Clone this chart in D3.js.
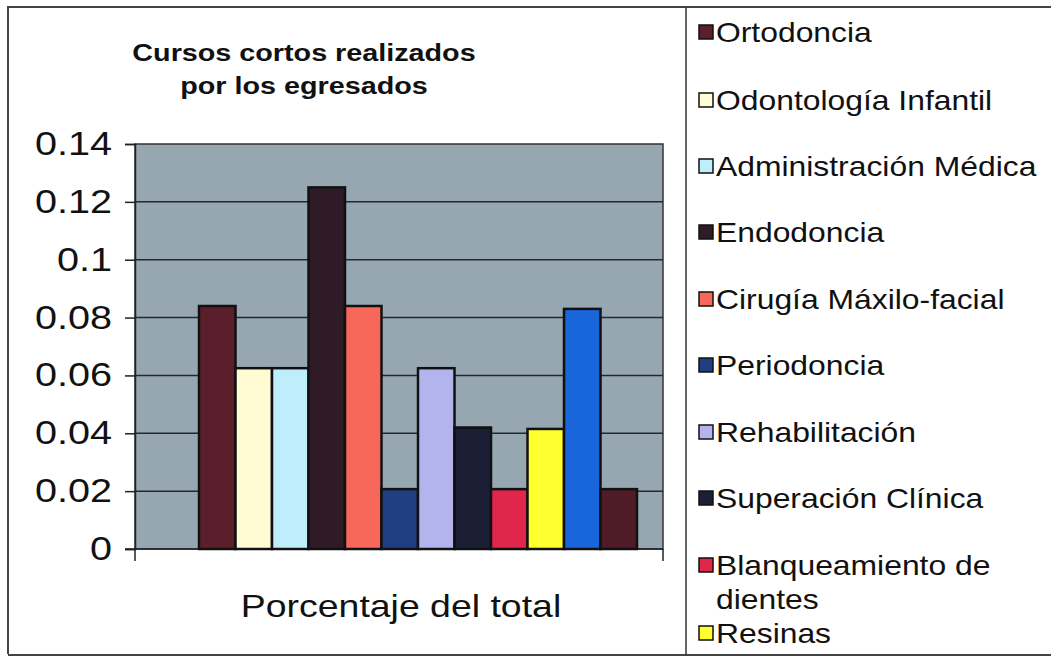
<!DOCTYPE html>
<html><head><meta charset="utf-8">
<script src="https://cdn.jsdelivr.net/npm/d3@7"></script>
<style>body{margin:0;background:#fff}svg{display:block;font-family:Arial,"Liberation Sans",sans-serif}</style>
</head><body>
<svg id="c" width="1051" height="657"></svg>
<script>
const categories = ["Ortodoncia","Odontología Infantil","Administración Médica","Endodoncia","Cirugía Máxilo-facial","Periodoncia","Rehabilitación","Superación Clínica","Blanqueamiento de dientes","Resinas","Serie 11","Serie 12"];
const values = [0.084,0.0625,0.0625,0.125,0.084,0.0207,0.0625,0.042,0.0207,0.0415,0.083,0.0207];
const colors = ["#5b1f2c","#fffbd2","#bdeefa","#2f1a28","#f8685a","#1f3f82","#b3b3ee","#1b1f36","#e0264a","#ffff30","#1866d9","#4e1b27"];
const legendShown = 10;
const yTicks = [0,0.02,0.04,0.06,0.08,0.1,0.12,0.14];
const xLabel = "Porcentaje del total";
const titleLines = ["Cursos cortos realizados","por los egresados"];

const svg = d3.select("#c");
// helper: horizontally stretched text (the reference is wider than natural)
function stext(parent, x, y, str, size, sx, anchor, weight){
  return parent.append("text")
    .attr("transform",`translate(${x},${y}) scale(${sx},1)`)
    .attr("text-anchor",anchor||"start")
    .attr("font-size",size).attr("font-weight",weight||"normal")
    .attr("fill","#111").text(str);
}

// outer frame
svg.append("path").attr("d","M8,654 L8,7 L1051,7").attr("fill","none").attr("stroke","#444").attr("stroke-width",2);
svg.append("line").attr("x1",8).attr("x2",1051).attr("y1",655).attr("y2",655).attr("stroke","#444").attr("stroke-width",2);
svg.append("line").attr("x1",686).attr("x2",686).attr("y1",7).attr("y2",655).attr("stroke","#333").attr("stroke-width",1.5);

const plot = {x0:135, x1:663, y0:144, y1:549};
const y = d3.scaleLinear().domain([0,0.14]).range([plot.y1, plot.y0]);
const x = d3.scaleBand().domain(categories).range([199,637]).padding(0);

svg.append("rect").attr("x",plot.x0).attr("y",plot.y0).attr("width",plot.x1-plot.x0).attr("height",plot.y1-plot.y0)
  .attr("fill","#97a7b2").attr("stroke","#333").attr("stroke-width",1.5);

// gridlines
svg.append("g").selectAll("line").data(yTicks.filter(d=>d>0 && d<0.14)).join("line")
  .attr("x1",plot.x0).attr("x2",plot.x1).attr("y1",d=>y(d)).attr("y2",d=>y(d))
  .attr("stroke","#1e2a33").attr("stroke-width",1.5);

// y axis
const sxTick = 1.2;
const yAxis = d3.axisLeft(y).tickValues(yTicks).tickSize(10).tickPadding(12).tickFormat(d=>d===0?"0":String(+d.toFixed(2)));
const ga = svg.append("g").attr("transform",`translate(${plot.x0},0)`).call(yAxis);
ga.select(".domain").attr("stroke","#222").attr("stroke-width",1.5);
ga.selectAll(".tick line").attr("stroke","#222").attr("stroke-width",1.5);
ga.selectAll(".tick text").attr("font-size",33).attr("fill","#111")
  .attr("font-family","Arial, 'Liberation Sans', sans-serif")
  .attr("x",-23/sxTick).attr("transform",`scale(${sxTick},1)`);

// bottom axis line and end ticks
svg.append("line").attr("x1",plot.x0-10).attr("x2",plot.x1).attr("y1",plot.y1).attr("y2",plot.y1).attr("stroke","#222").attr("stroke-width",1.5);
svg.selectAll(".xt").data([plot.x0,plot.x1]).join("line").attr("x1",d=>d).attr("x2",d=>d).attr("y1",plot.y1).attr("y2",plot.y1+12).attr("stroke","#222").attr("stroke-width",1.5);

// bars
svg.append("g").selectAll("rect").data(values).join("rect")
  .attr("x",(d,i)=>x(categories[i]))
  .attr("y",d=>y(d))
  .attr("width",x.bandwidth())
  .attr("height",d=>y(0)-y(d))
  .attr("fill",(d,i)=>colors[i])
  .attr("stroke","#111").attr("stroke-width",2.5);

// title
titleLines.forEach((t,i)=>stext(svg,304,61+i*33,t,23,1.25,"middle","bold"));

// x label
stext(svg,401,617,xLabel,32,1.17,"middle");

// legend
const lg = svg.append("g");
const legendY = [32,100,166,232,299,365,432,498,565,633];
const items = categories.slice(0,legendShown);
const sxLeg = 1.18;
items.forEach((name,i)=>{
  const cy = legendY[i];
  lg.append("rect").attr("x",699).attr("y",cy-7).attr("width",14).attr("height",14).attr("fill",colors[i]).attr("stroke","#111").attr("stroke-width",1.5);
  if (name === "Blanqueamiento de dientes") {
    stext(lg,716,cy+10,"Blanqueamiento de",27,sxLeg);
    stext(lg,716,cy+44,"dientes",27,sxLeg);
  } else {
    stext(lg,716,cy+10,name,27,sxLeg);
  }
});
</script>
</body></html>
